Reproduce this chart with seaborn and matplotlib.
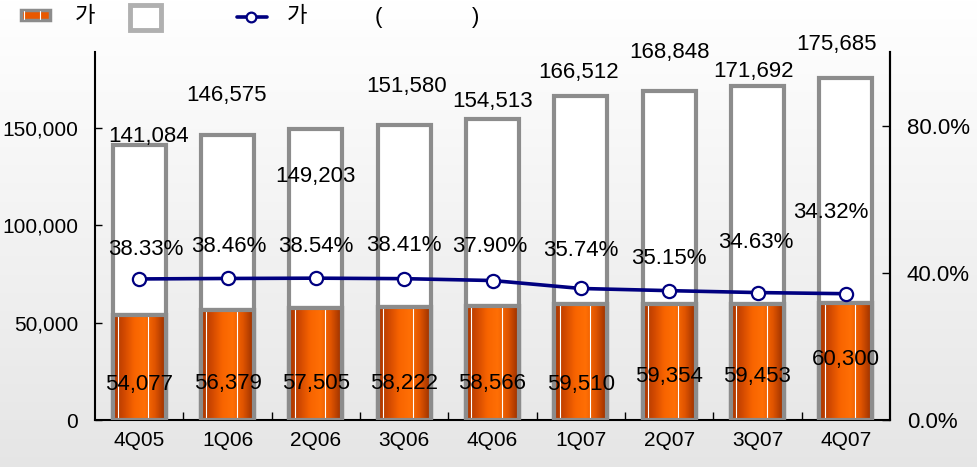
import numpy as np
import matplotlib
import seaborn as sns

matplotlib.use("Agg")
import matplotlib.pyplot as plt
from matplotlib.colors import LinearSegmentedColormap
from matplotlib.lines import Line2D
from matplotlib.patches import Rectangle

quarters = ["4Q05", "1Q06", "2Q06", "3Q06", "4Q06", "1Q07", "2Q07", "3Q07", "4Q07"]
total = [141084, 146575, 149203, 151580, 154513, 166512, 168848, 171692, 175685]
part = [54077, 56379, 57505, 58222, 58566, 59510, 59354, 59453, 60300]
ratio = [38.33, 38.46, 38.54, 38.41, 37.90, 35.74, 35.15, 34.63, 34.32]

# label offsets in pixels (Excel-style placement)
total_dx = [9, -1, 0, 2, 0, -2, 0, -4, -9]
total_dy = [9, 39, -47, 38, 18, 23, 39, 14, 33]
part_y = [18000, 19000, 19000, 19000, 19000, 18000, 22500, 22500, 31000]
pct_dx = [7, 1, 0, 0, -3, 0, 0, -2, -15]
pct_dy = [29, 32, 32, 33, 34, 38, 32, 50, 81]

W, H = 977, 467
GRAY = "#8c8c8c"
NAVY = "#000080"
FS = 16
TFS = 15

sns.set_style("ticks")
plt.rcParams["font.family"] = ["Liberation Sans", "Noto Sans CJK KR", "DejaVu Sans"]
plt.rcParams["text.color"] = "black"
plt.rcParams["xtick.color"] = "black"
plt.rcParams["ytick.color"] = "black"
plt.rcParams["xtick.labelcolor"] = "black"
plt.rcParams["ytick.labelcolor"] = "black"

fig = plt.figure(figsize=(W / 100, H / 100), dpi=100)

# background gradient
bg = fig.add_axes([0, 0, 1, 1], zorder=-10)
grad = np.linspace(1.0, 0.90, 256).reshape(-1, 1)
bg.imshow(np.dstack([grad, grad, grad]), aspect="auto", extent=[0, 1, 0, 1])
bg.axis("off")

ax = fig.add_axes([95 / W, 1 - 420 / H, (890 - 95) / W, (420 - 52) / H])
ax.set_facecolor("none")

sns.barplot(x=quarters, y=total, color="white", edgecolor=GRAY, linewidth=3,
            width=0.6, saturation=1, ax=ax, zorder=2)
n_before = len(ax.patches)
sns.barplot(x=quarters, y=part, color="#ff6600", edgecolor=GRAY, linewidth=3,
            width=0.6, saturation=1, ax=ax, zorder=3)
orange_bars = ax.patches[n_before:]

# horizontal shading on the orange bars
cmap = LinearSegmentedColormap.from_list(
    "org", ["#a83600", "#d04800", "#f86400", "#ff6f05", "#e05400", "#983000"])
shade = np.linspace(0, 1, 64).reshape(1, -1)
for p in orange_bars:
    x0, y0 = p.get_x(), p.get_y()
    w, h = p.get_width(), p.get_height()
    im = ax.imshow(shade, cmap=cmap, aspect="auto", extent=[x0, x0 + w, y0, y0 + h],
                   zorder=3.5, interpolation="bicubic")
    im.set_clip_path(p)
    for f in (0.1, 0.67):
        ax.plot([x0 + f * w] * 2, [y0, y0 + h], color="white", lw=0.8, zorder=3.6)
    edge = Rectangle((x0, y0), w, h, fill=False, edgecolor=GRAY, lw=3, zorder=3.7)
    ax.add_patch(edge)

ax.set_ylim(0, 189000)
ax.set_xlim(-0.5, len(quarters) - 0.5)
ax.set_yticks([0, 50000, 100000, 150000])
ax.set_yticklabels(["0", "50,000", "100,000", "150,000"], fontsize=TFS)
ax.set_xticks(range(len(quarters)))
ax.set_xticklabels(quarters, fontsize=TFS)
ax.tick_params(axis="x", length=0, pad=8)
ax.set_xticks(np.arange(0.5, len(quarters) - 0.5), minor=True)
ax.tick_params(axis="x", which="minor", direction="in", length=6, width=1, color="black")
ax.tick_params(axis="y", direction="in", length=5, width=1, color="black", pad=12)
ax.set_xlabel("")
for s in ("left", "bottom", "right"):
    ax.spines[s].set_color("black")
    ax.spines[s].set_linewidth(1.5)
ax.spines["top"].set_visible(False)

ax2 = ax.twinx()
sns.pointplot(x=quarters, y=ratio, color=NAVY, markers="o", markersize=9.5,
              linewidth=2.6, ax=ax2)
for ln in ax2.lines:
    ln.set_markerfacecolor("white")
    ln.set_markeredgecolor(NAVY)
    ln.set_markeredgewidth(1.6)
    ln.set_zorder(5)
ax2.set_ylim(0, 100)
ax2.set_xlim(-0.5, len(quarters) - 0.5)
ax2.set_yticks([0, 40, 80])
ax2.set_yticklabels(["0.0%", "40.0%", "80.0%"], fontsize=FS)
ax2.tick_params(axis="y", direction="in", length=6, width=1, color="black", pad=12)
ax2.spines["right"].set_color("black")
ax2.spines["right"].set_linewidth(1.5)
for s in ("top", "left", "bottom"):
    ax2.spines[s].set_visible(False)
ax2.set_xlabel("")
ax2.set_ylabel("")

for i, q in enumerate(quarters):
    ax.annotate(f"{total[i]:,}", (i, total[i]), xytext=(total_dx[i], total_dy[i]),
                textcoords="offset pixels", ha="center", va="center", fontsize=FS, zorder=6)
    ax.annotate(f"{part[i]:,}", (i, part_y[i]), ha="center", va="center",
                fontsize=FS, zorder=6)
    ax2.annotate(f"{ratio[i]:.2f}%", (i, ratio[i]), xytext=(pct_dx[i], pct_dy[i]),
                 textcoords="offset pixels", ha="center", va="center", fontsize=FS, zorder=6)


def fx(x):
    return x / W


def fy(y):
    return 1 - y / H


# legend strip drawn in figure coordinates
fig.add_artist(Rectangle((fx(21), fy(20)), fx(29), 10 / H, facecolor="#e85800",
                         edgecolor=GRAY, lw=2.5, transform=fig.transFigure))
for xl in (24, 40):
    fig.add_artist(Line2D([fx(xl)] * 2, [fy(19), fy(11)], color="white", lw=0.8))
fig.text(fx(85), fy(16), "가", fontsize=FS, ha="center", va="center")
fig.add_artist(Rectangle((fx(130), fy(30)), fx(31), 25 / H, facecolor="white",
                         edgecolor="#b0b0b0", lw=3.5, transform=fig.transFigure))
fig.add_artist(Line2D([fx(237), fx(267)], [fy(17), fy(17)], color=NAVY, lw=2.6))
fig.add_artist(Line2D([fx(251)], [fy(17)], color=NAVY, marker="o", markersize=7,
                      markerfacecolor="white", markeredgewidth=1.6))
fig.text(fx(297), fy(16), "가", fontsize=FS, ha="center", va="center")
fig.text(fx(378), fy(17), "(", fontsize=FS, ha="center", va="center")
fig.text(fx(476), fy(17), ")", fontsize=FS, ha="center", va="center")

fig.savefig("out.png", dpi=100)
plt.close(fig)
